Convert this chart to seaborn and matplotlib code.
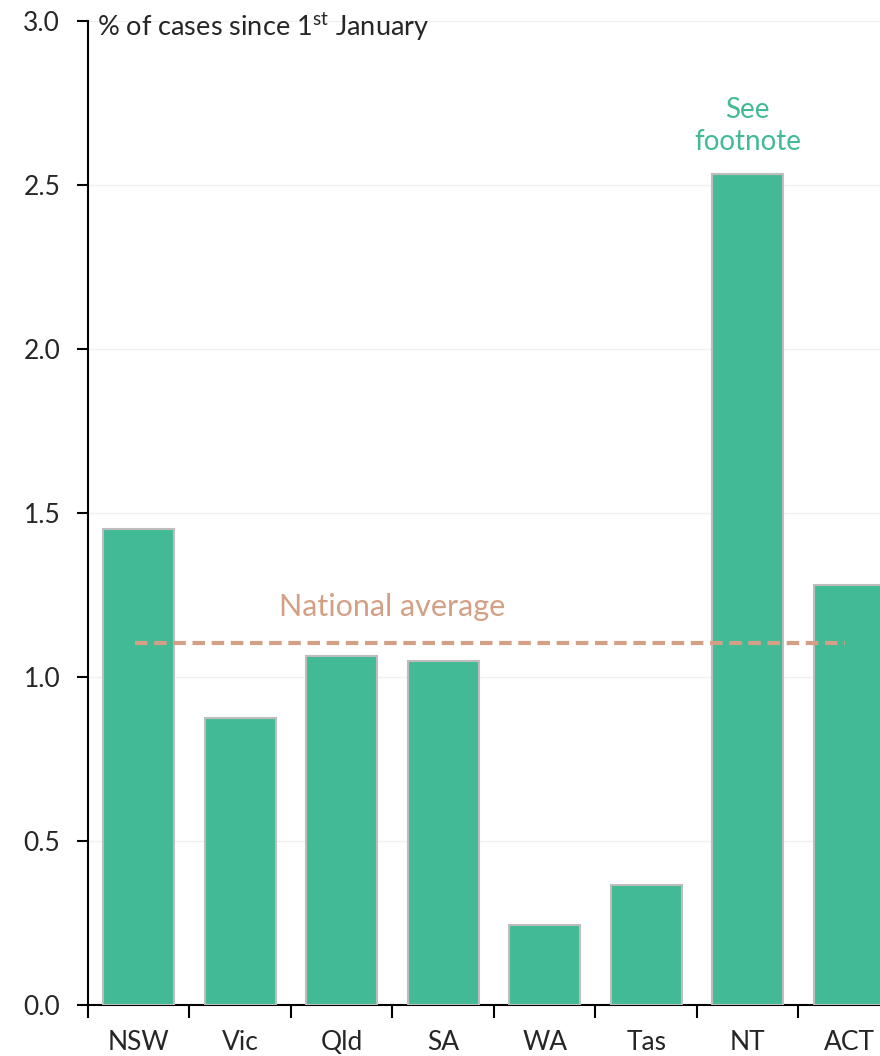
import matplotlib
matplotlib.use("Agg")
import matplotlib.pyplot as plt
import seaborn as sns
import pandas as pd

# data
states = ["NSW", "Vic", "Qld", "SA", "WA", "Tas", "NT", "ACT"]
share_of_cases = [1.45, 0.875, 1.065, 1.05, 0.245, 0.365, 2.535, 1.28]
national_average = 1.105

df = pd.DataFrame({"state": states, "share": share_of_cases})

sns.set_style("white")
plt.rcParams["font.family"] = ["Lato", "DejaVu Sans"]
plt.rcParams["mathtext.fontset"] = "custom"
plt.rcParams["mathtext.rm"] = "Lato"

green = "#43BA96"
tan = "#D4A085"

fig = plt.figure(figsize=(8.8, 10.56), dpi=100)
ax = fig.add_axes([0.1, 0.0483, 0.9227, 0.9317])

sns.barplot(data=df, x="state", y="share", color=green, width=0.7,
            edgecolor="#BDBDBD", linewidth=1.5, saturation=1, ax=ax, zorder=3)

ax.set_xlim(-0.5, 7.5)
ax.set_ylim(0, 3.0)
ax.set_yticks([0, 0.5, 1.0, 1.5, 2.0, 2.5, 3.0])
ax.set_yticklabels(["0.0", "0.5", "1.0", "1.5", "2.0", "2.5", "3.0"])
ax.yaxis.grid(True, color="#F0F0F0", linewidth=1, zorder=0)
ax.set_axisbelow(True)

# x ticks sit between the categories, labels in the middle
ax.set_xticks([i - 0.5 for i in range(len(states))])
ax.set_xticklabels([])
ax.set_xticks(range(len(states)), minor=True)
ax.set_xticklabels(states, minor=True)
ax.tick_params(axis="x", which="major", bottom=True, length=9, width=1.5,
               direction="out", color="black")
ax.tick_params(axis="x", which="minor", bottom=False, length=0, pad=18, labelsize=19)
ax.tick_params(axis="y", left=True, length=8, width=1.5, direction="out",
               color="black", labelsize=19, pad=12)

for side in ["top", "right"]:
    ax.spines[side].set_visible(False)
for side in ["left", "bottom"]:
    ax.spines[side].set_linewidth(1.5)
    ax.spines[side].set_color("black")

ax.set_xlabel("")
ax.set_ylabel("")

ax.hlines(national_average, -0.04, 6.96, colors=tan, linestyles=(0, (3, 1.6)),
          linewidth=3, zorder=4)
ax.text(2.5, 1.215, "National average", color=tan, fontsize=22,
        ha="center", va="center")
ax.text(6, 2.68, "See\nfootnote", color=green, fontsize=20,
        ha="center", va="center", linespacing=1.3)

fig.text(0.11, 0.975, r"% of cases since 1$^{\mathrm{st}}$ January", fontsize=19.5,
         ha="left", va="center")

fig.savefig("out.png", dpi=100)
